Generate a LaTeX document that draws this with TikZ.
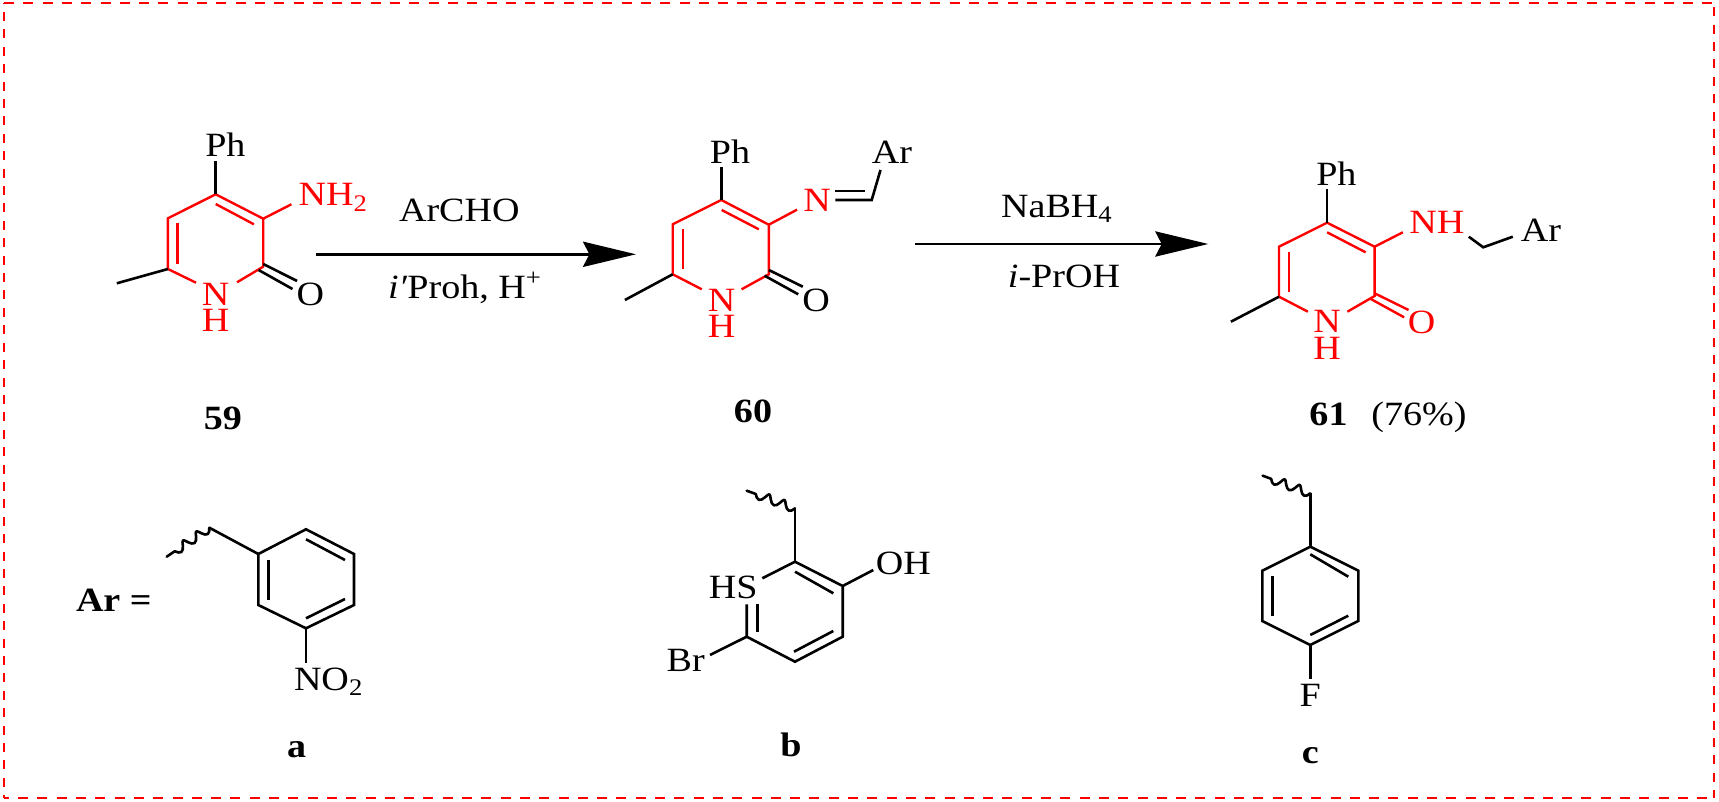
\documentclass[tikz,border=0pt]{standalone}
\usepackage{fontspec}
\setmainfont[FakeStretch=1.12]{Liberation Serif}
\usetikzlibrary{arrows.meta, decorations.pathmorphing}
\definecolor{chemred}{RGB}{255,0,0}
\tikzset{
  bond/.style={line width=1.3pt, black},
  redbond/.style={line width=1.2pt, chemred},
  wavy/.style={line width=1.3pt, black, line join=round, line cap=round, decorate, decoration={coil, aspect=0.2, segment length=8pt, amplitude=2.2pt}},
  lbl/.style={inner sep=0pt, outer sep=0pt, font=\fontsize{17}{19}\selectfont},
  redlbl/.style={lbl, text=chemred},
  numlbl/.style={lbl, font=\fontsize{17}{19}\selectfont\bfseries},
  rxn/.style={line width=1.3pt, -{Stealth[length=26.5pt, width=12.6pt, inset=3.2pt]}},
  framex/.style={chemred, line width=1pt, dash pattern=on 5pt off 4.65pt},
  framey/.style={chemred, line width=1pt, dash pattern=on 4.5pt off 4.2pt},
}
\begin{document}
\begin{tikzpicture}[x=0.5pt, y=-0.5pt]
\useasboundingbox (0,0) rectangle (1719,802);

% Draw frame
\coordinate (frameNW) at (4,3.4);
\coordinate (frameNE) at (1714,3.4);
\coordinate (frameSW) at (4,798);
\coordinate (frameSE) at (1714,798);
\draw[framex] (frameNW) -- (frameNE);
\draw[framex, dash phase=2.6pt] (frameSW) -- (frameSE);
\draw[framey, dash phase=4.35pt] (frameNW) -- (frameSW);
\draw[framey, dash phase=6.8pt] (frameNE) -- (frameSE);

% Compound 59
\foreach \pname/\px/\py in {p1/215.7/194.3, p2/263.2/218.7, p3/263.2/266.7, p4/167.9/269, p5/167.9/218.3,
  pMe/116.8/283.3, pPh/215.7/160.7, pAm/291.4/204.3, pNa/196/282.7, pNb/237/282.3,
  pOa/263.2/264, pOb/297.1/281, pOc/258.6/270, pOd/292.5/289,
  pIa/177.5/223.3, pIb/177.5/264, pIc/215.7/204, pId/253.9/224.3}
  \coordinate (\pname) at (\px,\py);
\draw[redbond] (pNa) -- (p4) -- (p5) -- (p1) -- (p2) -- (p3) -- (pNb);
\draw[redbond] (pIa) -- (pIb);
\draw[redbond] (pIc) -- (pId);
\draw[redbond] (p2) -- (pAm);
\draw[bond] (p4) -- (pMe);
\draw[bond] (p1) -- (pPh);
\draw[bond] (pOa) -- (pOb);
\draw[bond] (pOc) -- (pOd);
\node[lbl] (phA) at (225.4,145) {Ph};
\node[redlbl, anchor=base west] (nhA) at (298.6,206) {NH\textsubscript{2}};
\node[redlbl] (nA) at (215.7,294) {N};
\node[redlbl] (hA) at (215.7,320.7) {H};
\node[lbl] (oA) at (310.4,294) {O};
\node[numlbl] (num59) at (222.9,418) {59};

% First arrow
\coordinate (arrowAs) at (316.4,254.3);
\coordinate (arrowAe) at (636,254.3);
\draw[rxn] (arrowAs) -- (arrowAe);
\node[lbl, anchor=base] (reagA) at (459.3,221.7) {ArCHO};
\node[lbl, anchor=base] (condA) at (465,298.3) {\textit{i′}Proh, H\textsuperscript{+}};

% Compound 60
\foreach \qname/\qx/\qy in {q1/721.3/200, q2/768.8/224.7, q3/768.8/274.3, q4/672.7/274.3, q5/672.7/224.3,
  qMe/624.9/300, qPh/721.3/167.3, qIm/797/209.7, qNa/701.8/289.3, qNb/741.6/289.3,
  qOa/768.8/270, qOb/802.8/286.7, qOc/764.6/275.7, qOd/798.2/294.3,
  qIa/682.7/229.3, qIb/682.7/269.3, qIc/721.7/210, qId/758.8/229.3,
  qDa/835.4/200, qDb/871.7/200, qDc/835.4/191, qDd/864.8/191, qAr/880.5/170}
  \coordinate (\qname) at (\qx,\qy);
\draw[redbond] (qNa) -- (q4) -- (q5) -- (q1) -- (q2) -- (q3) -- (qNb);
\draw[redbond] (qIa) -- (qIb);
\draw[redbond] (qIc) -- (qId);
\draw[redbond] (q2) -- (qIm);
\draw[bond] (q4) -- (qMe);
\draw[bond] (q1) -- (qPh);
\draw[bond] (qOa) -- (qOb);
\draw[bond] (qOc) -- (qOd);
\draw[bond] (qDa) -- (qDb) -- (qAr);
\draw[bond] (qDc) -- (qDd);
\node[lbl] (phB) at (730.1,151.7) {Ph};
\node[lbl] (arB) at (892,152.7) {Ar};
\node[redlbl] (imB) at (817,200) {N};
\node[redlbl] (nB) at (721.7,300) {N};
\node[redlbl] (hB) at (721.7,326.7) {H};
\node[lbl] (oB) at (816.2,300) {O};
\node[numlbl] (num60) at (753,411.7) {60};

% Second arrow
\coordinate (arrowBs) at (915,244);
\coordinate (arrowBe) at (1208.3,244);
\draw[rxn] (arrowBs) -- (arrowBe);
\node[lbl, anchor=base] (reagB) at (1057,217.3) {NaBH\textsubscript{4}};
\node[lbl, anchor=base] (condB) at (1064,287.7) {\textit{i}-PrOH};

% Compound 61
\foreach \rname/\rx/\ry in {r1/1327.1/222.7, r2/1374.6/246.7, r3/1374.6/296, r4/1279/296.7, r5/1279/246.7,
  rMe/1230.9/321.7, rPh/1327.1/189, rAm/1402.8/232.3, rNa/1307.9/311.7, rNb/1347.4/311.7,
  rOa/1374.6/293.3, rOb/1408.6/310, rOc/1370.8/299, rOd/1404.1/317.3,
  rIa/1289/251.7, rIb/1289/292.3, rIc/1327.1/232.3, rId/1365.6/252.3,
  rLa/1468.8/236.7, rLb/1483.2/247.3, rLc/1512.8/236.7}
  \coordinate (\rname) at (\rx,\ry);
\draw[redbond] (rNa) -- (r4) -- (r5) -- (r1) -- (r2) -- (r3) -- (rNb);
\draw[redbond] (rIa) -- (rIb);
\draw[redbond] (rIc) -- (rId);
\draw[redbond] (r2) -- (rAm);
\draw[redbond] (rOa) -- (rOb);
\draw[redbond] (rOc) -- (rOd);
\draw[bond] (r4) -- (rMe);
\draw[bond] (r1) -- (rPh);
\draw[bond] (rLa) -- (rLb) -- (rLc);
\node[lbl] (phC) at (1336.4,173.3) {Ph};
\node[redlbl, anchor=base] (nhC) at (1436.8,234) {NH};
\node[lbl] (arC) at (1541,230.7) {Ar};
\node[redlbl] (nC) at (1327.1,321.7) {N};
\node[redlbl] (hC) at (1327.1,348.3) {H};
\node[redlbl] (oC) at (1421.7,322.3) {O};
\node[numlbl, anchor=base] (num61) at (1328.5,425) {61};
\node[lbl, anchor=base] (yield) at (1419,425) {(76\%)};

% Ar group a
\node[numlbl, anchor=base west] (arEq) at (76,611.7) {Ar =};
\foreach \aname/\ax/\ay in {a1/258.3/554, a2/306/529.3, a3/354/554, a4/354/605, a5/306/628.3, a6/258.3/605,
  aCh/209.3/527.7, aWv/166.7/556.7, aNo/306/662.7,
  aIa/268.3/560, aIb/268.3/600, aIc/306/539.3, aId/345/560, aIe/306/618.3, aIf/345/599}
  \coordinate (\aname) at (\ax,\ay);
\draw[bond] (a1) -- (a2) -- (a3) -- (a4) -- (a5) -- (a6) -- cycle;
\draw[bond] (aIa) -- (aIb);
\draw[bond] (aIc) -- (aId);
\draw[bond] (aIe) -- (aIf);
\draw[bond] (a1) -- (aCh);
\draw[wavy] (aCh) -- (aWv);
\draw[bond] (a5) -- (aNo);
\node[lbl, anchor=base west] (no2) at (294,690) {NO\textsubscript{2}};
\node[numlbl, anchor=base] (labA) at (296.7,757) {a};

% Ar group b
\foreach \bname/\bx/\by in {b1/795/561.7, b2/842.7/586, b3/842.7/636.7, b4/795/661.7, b5/746.7/636.7,
  bCh/795/508.3, bWv/746.7/490.7, bSa/762.3/578.3, bSb/746.7/604.3, bSc/757.3/604.3, bSd/757.3/631.7,
  bBr/710/655, bOh/873.3/570, bIa/795/571.7, bIb/833.3/593.3, bIc/794/651.7, bId/833.3/631}
  \coordinate (\bname) at (\bx,\by);
\draw[bond] (bSa) -- (b1) -- (b2) -- (b3) -- (b4) -- (b5) -- (bSb);
\draw[bond] (bSc) -- (bSd);
\draw[bond] (bIa) -- (bIb);
\draw[bond] (bIc) -- (bId);
\draw[bond] (b1) -- (bCh);
\draw[wavy] (bCh) -- (bWv);
\draw[bond] (b5) -- (bBr);
\draw[bond] (b2) -- (bOh);
\node[lbl, anchor=base] (hs) at (733.3,598.3) {HS};
\node[lbl, anchor=base] (br) at (685.7,671.7) {Br};
\node[lbl, anchor=base] (oh) at (903.3,574) {OH};
\node[numlbl, anchor=base] (labB) at (791,756) {b};

% Ar group c
\foreach \cname/\cx/\cy in {c1/1310.3/546.7, c2/1358.3/570.7, c3/1358.3/621, c4/1310.3/645, c5/1262.3/621, c6/1262.3/570.7,
  cCh/1310.3/493.3, cWv/1262.7/475.7, cFl/1310.3/679,
  cIa/1272.7/576, cIb/1272.7/616, cIc/1310.3/554.3, cId/1348.3/576.7, cIe/1310.3/635, cIf/1348.3/615.7}
  \coordinate (\cname) at (\cx,\cy);
\draw[bond] (c1) -- (c2) -- (c3) -- (c4) -- (c5) -- (c6) -- cycle;
\draw[bond] (cIa) -- (cIb);
\draw[bond] (cIc) -- (cId);
\draw[bond] (cIe) -- (cIf);
\draw[bond] (c1) -- (cCh);
\draw[wavy] (cCh) -- (cWv);
\draw[bond] (c4) -- (cFl);
\node[lbl, anchor=base] (fl) at (1310.3,706.7) {F};
\node[numlbl, anchor=base] (labC) at (1310.3,763) {c};
\end{tikzpicture}
\end{document}
